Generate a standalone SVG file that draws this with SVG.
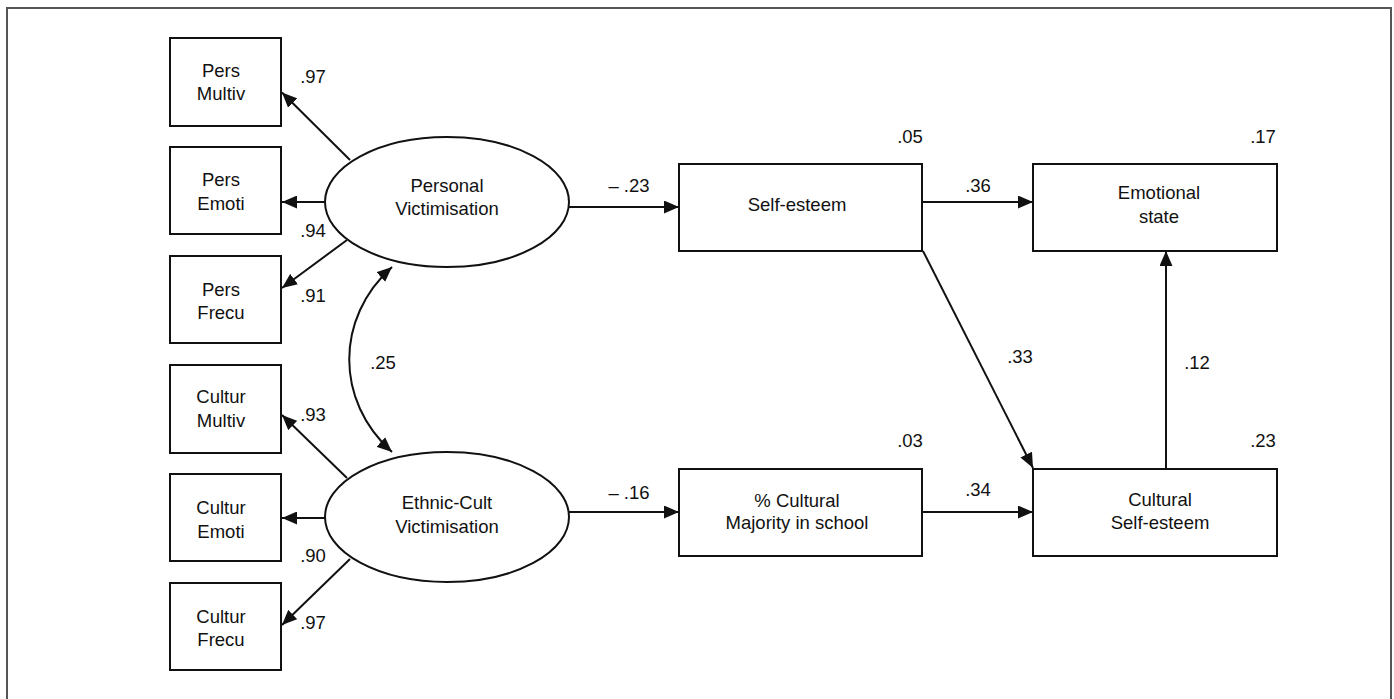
<svg xmlns="http://www.w3.org/2000/svg" width="1394" height="699" viewBox="0 0 1394 699">
<style>
  .box { fill: #fff; stroke: #111; stroke-width: 2; }
  .t { font-family: "Liberation Sans", Arial, Helvetica, sans-serif; font-size: 18.5px; fill: #111; text-anchor: middle; }
  .c { fill: none; stroke: #111; stroke-width: 2; }
  .frame { fill: none; stroke: #555; stroke-width: 2; }
</style>
<defs>
  <marker id="ah" markerUnits="userSpaceOnUse" markerWidth="15" markerHeight="13" refX="15" refY="6.5" orient="auto-start-reverse">
    <path d="M0,0 L15,6.5 L0,13 z" fill="#111"/>
  </marker>
</defs>
<rect width="1394" height="699" fill="#fff"/>
<path class="frame" d="M7,702 V8 H1391 V702"/>

<g id="connectors">
  <line class="c" x1="350" y1="160" x2="282" y2="92.5" marker-end="url(#ah)"/>
  <line class="c" x1="325" y1="202" x2="282" y2="202" marker-end="url(#ah)"/>
  <line class="c" x1="347" y1="240" x2="282" y2="288" marker-end="url(#ah)"/>
  <line class="c" x1="347" y1="478" x2="282" y2="415" marker-end="url(#ah)"/>
  <line class="c" x1="325" y1="518" x2="282" y2="518" marker-end="url(#ah)"/>
  <line class="c" x1="350" y1="559" x2="282" y2="625" marker-end="url(#ah)"/>
  <line class="c" x1="569" y1="207" x2="679" y2="207" marker-end="url(#ah)"/>
  <line class="c" x1="569" y1="512" x2="679" y2="512" marker-end="url(#ah)"/>
  <line class="c" x1="922" y1="202" x2="1033" y2="202" marker-end="url(#ah)"/>
  <line class="c" x1="923" y1="251" x2="1033" y2="468" marker-end="url(#ah)"/>
  <line class="c" x1="922" y1="512" x2="1033" y2="512" marker-end="url(#ah)"/>
  <line class="c" x1="1166" y1="469" x2="1166" y2="251" marker-end="url(#ah)"/>
  <path class="c" d="M392,267 C335,318 335,401 392,452" marker-start="url(#ah)" marker-end="url(#ah)"/>
  <text class="t" x="313" y="83">.97</text>
  <text class="t" x="313" y="237">.94</text>
  <text class="t" x="313" y="302">.91</text>
  <text class="t" x="383" y="369">.25</text>
  <text class="t" x="313" y="421">.93</text>
  <text class="t" x="313" y="562">.90</text>
  <text class="t" x="313" y="629">.97</text>
  <text class="t" x="629" y="192">– .23</text>
  <text class="t" x="629" y="499">– .16</text>
  <text class="t" x="978" y="192">.36</text>
  <text class="t" x="978" y="496">.34</text>
  <text class="t" x="1020" y="363">.33</text>
  <text class="t" x="1197" y="369">.12</text>
  <text class="t" x="910" y="143">.05</text>
  <text class="t" x="1263" y="143">.17</text>
  <text class="t" x="910" y="447">.03</text>
  <text class="t" x="1263" y="447">.23</text>
</g>

<g id="pers-multiv">
  <rect class="box" x="170" y="38" width="111" height="88"/>
  <text class="t" x="221" y="77">Pers</text>
  <text class="t" x="221" y="100">Multiv</text>
</g>
<g id="pers-emoti">
  <rect class="box" x="170" y="147" width="111" height="87"/>
  <text class="t" x="221" y="186">Pers</text>
  <text class="t" x="221" y="210">Emoti</text>
</g>
<g id="pers-frecu">
  <rect class="box" x="170" y="256" width="111" height="87"/>
  <text class="t" x="221" y="296">Pers</text>
  <text class="t" x="221" y="319">Frecu</text>
</g>
<g id="cultur-multiv">
  <rect class="box" x="170" y="365" width="111" height="88"/>
  <text class="t" x="221" y="403">Cultur</text>
  <text class="t" x="221" y="427">Multiv</text>
</g>
<g id="cultur-emoti">
  <rect class="box" x="170" y="474" width="111" height="87"/>
  <text class="t" x="221" y="514">Cultur</text>
  <text class="t" x="221" y="538">Emoti</text>
</g>
<g id="cultur-frecu">
  <rect class="box" x="170" y="583" width="111" height="87"/>
  <text class="t" x="221" y="623">Cultur</text>
  <text class="t" x="221" y="646">Frecu</text>
</g>

<g id="personal-victimisation">
  <ellipse class="box" cx="447" cy="202" rx="122" ry="65"/>
  <text class="t" x="447" y="192">Personal</text>
  <text class="t" x="447" y="215">Victimisation</text>
</g>
<g id="ethnic-cult-victimisation">
  <ellipse class="box" cx="447" cy="517" rx="122" ry="65"/>
  <text class="t" x="447" y="509">Ethnic-Cult</text>
  <text class="t" x="447" y="533">Victimisation</text>
</g>

<g id="self-esteem">
  <rect class="box" x="679" y="164" width="243" height="87"/>
  <text class="t" x="797" y="211">Self-esteem</text>
</g>
<g id="emotional-state">
  <rect class="box" x="1033" y="164" width="244" height="87"/>
  <text class="t" x="1159" y="199">Emotional</text>
  <text class="t" x="1159" y="223">state</text>
</g>
<g id="cultural-majority">
  <rect class="box" x="679" y="469" width="243" height="87"/>
  <text class="t" x="797" y="507">% Cultural</text>
  <text class="t" x="797" y="529">Majority in school</text>
</g>
<g id="cultural-self-esteem">
  <rect class="box" x="1033" y="469" width="244" height="87"/>
  <text class="t" x="1160" y="506">Cultural</text>
  <text class="t" x="1160" y="529">Self-esteem</text>
</g>
</svg>
